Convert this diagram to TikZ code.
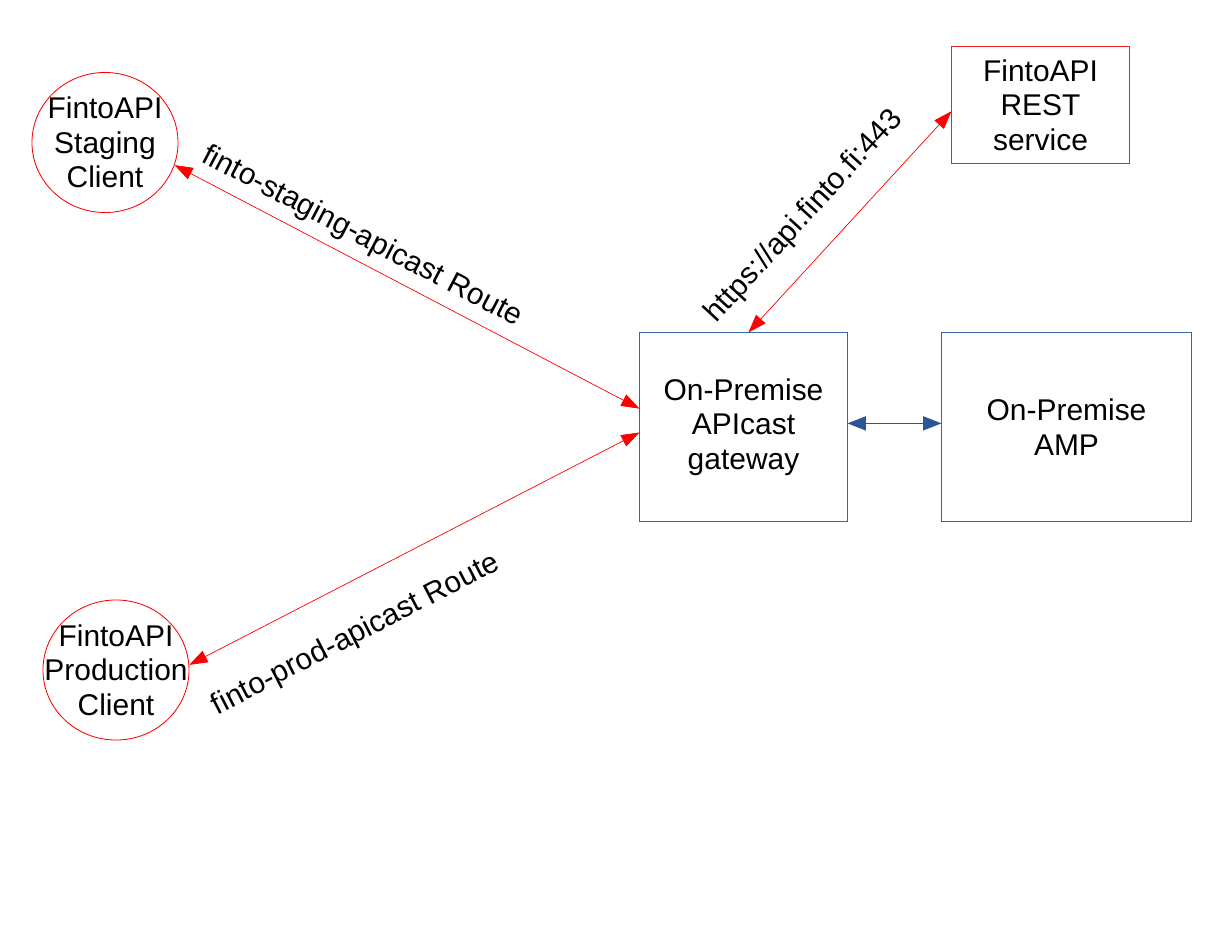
\documentclass[tikz,border=0pt]{standalone}
\usepackage{fontspec}
\setmainfont{Liberation Sans}
\usetikzlibrary{arrows.meta,shapes.geometric}

\definecolor{boxblue}{HTML}{3465A4}
\definecolor{arrowblue}{HTML}{2A5699}
\definecolor{boxred}{HTML}{EE2222}

\begin{document}
\begin{tikzpicture}[x=0.025cm,y=-0.025cm,
	txt/.style={font=\fontsize{21.3pt}{24.6pt}\selectfont,align=center,text=black},
	client/.style={ellipse,draw=red,line width=0.6pt,minimum width=3.65cm,minimum height=3.5cm,inner sep=0pt},
	restbox/.style={rectangle,draw=boxred,line width=0.7pt,minimum width=4.425cm,minimum height=2.9cm,txt},
	gwbox/.style={rectangle,draw=boxblue,line width=0.7pt,minimum height=4.7cm,txt},
	route/.style={red,line width=0.5pt,arrows={Triangle[length=13pt,width=9pt]-Triangle[length=13pt,width=9pt]}},
	link/.style={arrowblue,line width=0.7pt,arrows={Triangle[length=13pt,width=10pt]-Triangle[length=13pt,width=10pt]}}]
	\useasboundingbox (0,0) rectangle (1210,935);

	\node[client,label={[txt]center:FintoAPI\\Staging\\Client}] (stg) at (105,142.5) {};
	\node[client,label={[txt]center:FintoAPI\\Production\\Client}] (prod) at (116,670) {};
	\node[restbox] (rest) at (1040.5,105) {FintoAPI\\REST\\service};
	\node[gwbox,minimum width=5.175cm] (gw) at (743.5,427) {On-Premise\\APIcast\\gateway};
	\node[gwbox,minimum width=6.225cm] (amp) at (1066.5,427) {On-Premise\\AMP};

	\draw[route] (stg.-18) -- node[txt,sloped,above=3pt,pos=0.38] {finto-staging-apicast Route} (gw.170);
	\draw[route] (prod.4) -- node[txt,sloped,below=22pt,pos=0.32] {finto-prod-apicast Route} (gw.183);
	\draw[route] (gw.87) -- node[txt,sloped,above=13pt,pos=0.41] {https://api.finto.fi:443} (rest.184);
	\draw[link] (gw.2) -- (gw.2 -| amp.west);
\end{tikzpicture}
\end{document}
